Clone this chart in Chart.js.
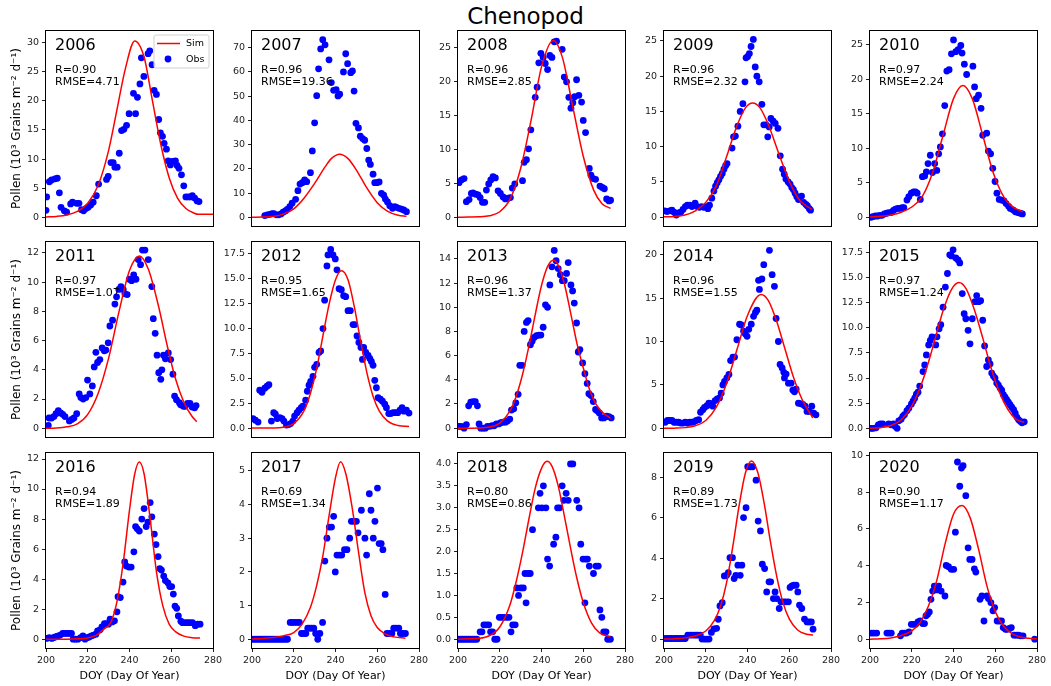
<!DOCTYPE html>
<html>
<head>
<meta charset="utf-8">
<script src="https://cdn.jsdelivr.net/npm/chart.js@4.4.1/dist/chart.umd.min.js"></script>
<style>
body{margin:0;background:#fff;width:1051px;height:686px;overflow:hidden;position:relative;font-family:"DejaVu Sans",sans-serif}
.panel{position:absolute}
#title{position:absolute;left:0;top:3px;width:1051px;text-align:center;font-size:23px;line-height:27px;color:#000}
</style>
</head>
<body>
<div id="title">Chenopod</div>
<script>
// panel labels and stats
var years = ['2006','2007','2008','2009','2010','2011','2012','2013','2014','2015','2016','2017','2018','2019','2020'];
var rValues = ['0.90','0.96','0.96','0.96','0.97','0.97','0.95','0.96','0.96','0.97','0.94','0.69','0.80','0.89','0.90'];
var rmseValues = ['4.71','19.36','2.85','2.32','2.24','1.07','1.65','1.37','1.55','1.24','1.89','1.34','0.86','1.73','1.17'];

// axes
var xTicks = [200, 220, 240, 260, 280];
var yMins = [-1.5, -3.6, -1.3, -1.25, -1.25, -0.6, -0.9, -0.73, -1.0, -0.86, -0.59, -0.26, -0.2, -0.44, -0.48];
var yMaxs = [32.0, 76.9, 27.5, 26.4, 27.0, 12.75, 18.7, 15.4, 21.46, 18.53, 12.4, 5.53, 4.25, 9.19, 10.13];
var yTickSteps = [5, 10, 5, 5, 5, 2, 2.5, 2, 5, 2.5, 2, 1, 0.5, 2, 2];
var yTickTops = [30, 70, 25, 25, 25, 12, 17.5, 14, 20, 17.5, 12, 5, 4, 8, 10];
var yTickDecimals = [0, 0, 0, 0, 0, 0, 1, 0, 0, 1, 0, 0, 1, 0, 0];

// observed [day, value]
var obs2006 = [[200,1.2],[200.3,3.5],[201.6,6.1],[202.7,6.4],[204.3,6.6],[205.4,6.7],[206.4,4.2],[207.2,1.7],[208.8,1.1],[209.9,0.9],[211.8,2.3],[212.7,2.6],[214.7,2.4],[215.8,2.4],[217,1.3],[218,1.1],[219.1,1.5],[220.2,1.7],[221.4,2.1],[222.6,2.6],[224.1,3.7],[225.2,5.7],[229,6.5],[229.8,7.0],[231.1,9.4],[232.2,9.4],[233,8.6],[234.1,8.6],[235.1,11.0],[236.2,14.9],[237.3,15.1],[238.6,15.8],[239.8,17.8],[241.9,21.3],[242.9,17.8],[243.8,20.6],[245,22.9],[245.7,27.4],[246.9,24.2],[248.9,28.1],[249.7,28.6],[250.8,26.2],[251.8,21.8],[252.9,21.1],[254,16.8],[254.8,14.5],[255.8,13.9],[256.6,12.7],[257.7,11.7],[258.5,9.7],[259.6,9.0],[260.5,9.6],[262,9.7],[262.8,8.9],[263.7,8.4],[264.9,7.3],[266,5.4],[267,3.5],[268.1,3.5],[269.2,3.5],[270.1,3.7],[271.2,3.3],[272.4,2.8],[273.3,2.7]];
var obs2007 = [[206.1,0.7],[207.3,1.0],[208.5,1.2],[209.6,1.5],[210.5,1.5],[211.7,1.0],[212.8,1.0],[213.9,1.4],[214.9,2.1],[216,2.6],[216.9,3.3],[218.1,4.4],[219.2,5.8],[220.9,7.4],[222,11.0],[223,13.7],[224.1,14.3],[225.2,15.4],[226.2,14.7],[228,18.4],[228.9,27.4],[230,39.0],[231,50.2],[231.9,61.3],[232.9,69.5],[233.9,73.3],[235,71.2],[236.9,65.0],[238,55.6],[239.1,52.4],[240.3,52.7],[241.2,50.1],[242,50.8],[243.8,60.0],[244.9,67.5],[245.8,63.4],[247.3,59.7],[248.1,60.4],[248.9,52.1],[249.8,38.8],[251,36.9],[251.9,33.5],[253,32.5],[254,31.8],[255,28.4],[255.9,23.6],[256.7,21.8],[258,17.8],[258.8,14.3],[259.9,14.3],[260.9,14.6],[262,9.9],[263.1,9.1],[263.9,7.5],[264.9,6.3],[266,4.8],[267.3,3.7],[268.4,4.4],[269.2,4.1],[270.4,3.7],[271.6,3.4],[272.7,3.0],[274,2.3]];
var obs2008 = [[200.5,5.1],[201.6,5.5],[202.9,5.7],[204,2.3],[205.3,2.6],[206.4,3.5],[207.2,3.6],[208.5,3.4],[209.6,3.3],[210.6,2.9],[211.7,2.2],[212.8,2.2],[213.6,4.0],[214.7,4.9],[215.7,5.5],[216.8,6.0],[217.9,5.8],[219.2,3.9],[220.3,3.5],[221.6,3.0],[222.7,2.7],[224,2.8],[225.1,2.9],[226,4.3],[227.2,4.9],[230.9,5.4],[231.7,8.1],[232.8,8.5],[233.8,10.1],[234.9,12.9],[237,17.7],[237.9,19.2],[238.7,22.8],[239.7,24.2],[240.8,23.6],[241.8,22.7],[242.9,21.8],[244,23.9],[245,23.6],[246.1,25.9],[247.2,26.0],[249.9,24.8],[250.9,20.7],[252,20.0],[253.1,17.7],[254.1,16.1],[255,16.9],[255.9,17.8],[256.8,20.3],[257.9,18.0],[259.2,17.0],[260,14.3],[261.1,12.5],[262.9,7.2],[263.7,6.2],[264.8,5.7],[265.9,5.6],[268,4.6],[269.1,4.4],[270.1,4.2],[271.2,2.7],[272.3,2.4],[273.1,2.5]];
var obs2009 = [[200.3,0.9],[201.4,0.8],[202.7,0.9],[203.8,1.0],[204.8,0.7],[205.9,0.3],[207,0.6],[208,0.7],[209.1,1.1],[210.2,1.5],[211.2,1.7],[212.3,1.7],[213.4,1.5],[214.9,2.0],[215.9,1.5],[217,1.4],[218,1.5],[219.1,1.4],[220.2,1.5],[221,1.2],[221.8,1.7],[222.9,2.7],[223.9,3.7],[224.7,4.4],[225.5,4.9],[226.3,5.3],[227.1,5.8],[227.9,6.2],[228.7,6.8],[229.5,7.3],[230.2,7.6],[232.6,9.8],[233.3,11.4],[234.2,11.5],[235.4,12.9],[236.5,15.0],[237.8,16.1],[238.8,19.2],[239.3,22.6],[240.1,22.8],[240.9,23.2],[241.7,24.2],[242.8,25.2],[243.7,21.3],[244.5,20.0],[245.6,19.2],[246.9,16.0],[247.8,13.1],[248.9,13.1],[249.7,11.4],[250.4,12.8],[251.2,14.0],[252.3,13.6],[253.3,13.3],[254.6,12.6],[255.7,8.7],[256.8,6.8],[257.6,6.1],[258.4,5.4],[259.5,5.0],[260.4,4.7],[261.2,4.2],[262,3.9],[262.8,3.4],[263.6,2.9],[264.4,2.5],[265.9,3.0],[266.9,2.1],[268,1.8],[268.7,1.6],[269.6,1.2],[270.2,1.0]];
var obs2010 = [[200.5,0],[201.3,0.1],[202.6,0.2],[203.7,0.2],[204.8,0.3],[205.8,0.3],[206.9,0.5],[208,0.6],[209,0.7],[210.1,0.7],[211.2,1.0],[212.2,1.2],[213.3,1.3],[214.5,1.3],[215.4,1.4],[216.2,1.4],[217.7,2.5],[218.6,3.0],[219.8,3.5],[220.9,3.7],[221.8,3.7],[222.6,3.5],[224.1,2.6],[225.1,5.9],[226.2,6.0],[227,6.6],[227.8,7.8],[228.9,9.0],[229.9,6.5],[231,7.8],[232,6.8],[232.9,9.2],[233.7,10.2],[234.7,12.1],[235.8,16.2],[236.8,21.2],[237.9,21.4],[239,23.7],[240,25.7],[241.1,24.0],[242.2,24.3],[243.5,24.9],[244.1,23.8],[245.2,22.2],[246.3,20.7],[249.3,21.9],[250.1,18.9],[250.9,17.2],[252,17.7],[253.2,15.8],[254,11.9],[255.9,12.2],[256.7,9.6],[257.8,9.2],[258.8,7.1],[259.9,5.2],[260.8,3.5],[261.9,2.6],[263,2.5],[264.2,2.4],[265.2,2.0],[266.4,1.6],[267.2,1.3],[268.5,1.1],[269.6,0.8],[270.8,0.7],[272,0.6],[273,0.5]];
var obs2011 = [[201.1,0.2],[201.4,0.7],[202.7,0.7],[203.8,0.8],[204.8,1.0],[205.9,1.2],[207,1.05],[208,0.95],[209.1,0.8],[211.2,0.5],[212.3,0.6],[213.4,0.7],[214.7,1.0],[215.9,2.35],[216.7,2.1],[217.8,2.0],[219.1,2.1],[219.9,3.3],[221,2.35],[222.2,2.9],[223.1,4.2],[223.9,5.2],[224.7,4.5],[225.8,4.7],[226.9,5.5],[227.9,5.3],[228.7,5.35],[229.8,5.85],[230.6,7.0],[231.9,7.4],[233,8.5],[233.8,9.0],[234.9,9.5],[235.9,9.7],[237,9.5],[237.8,9.2],[238.9,9.15],[239.9,10.2],[241,10.1],[242,10.5],[243.1,10.2],[244.2,11.55],[245.3,11.2],[246.2,12.2],[247.4,12.2],[249,11.55],[250.7,9.7],[251.4,7.5],[252.3,6.5],[253.2,5.0],[254,3.8],[255,3.35],[255.5,4.0],[256.3,5.0],[257.2,4.75],[258.6,5.15],[259.7,4.7],[260.8,3.7],[261.6,2.2],[262.5,1.95],[263.9,1.75],[264.5,1.6],[265.8,1.5],[266.7,1.5],[267.8,1.7],[269,1.7],[270,1.45],[271.2,1.4],[271.9,1.55]];
var obs2012 = [[200.5,0.95],[201.6,0.8],[202.9,0.6],[203.7,3.8],[204.8,3.6],[206.1,4.0],[207.2,4.2],[208.1,4.35],[209.3,0.7],[210.4,1.55],[211.2,1.4],[212.1,0.95],[213.3,1.05],[214.4,0.95],[215.3,0.7],[216.5,0.3],[217.6,0.35],[218.5,0.45],[219.6,0.7],[220.4,1.2],[221.6,1.55],[222.5,1.8],[223.6,2.05],[224.4,2.2],[225.7,2.8],[226.5,3.7],[227.3,4.3],[228.1,4.7],[229.2,5.2],[230,6.1],[231,6.4],[232.1,7.6],[232.9,7.75],[234,10.0],[234.8,12.85],[235.9,16.3],[236.4,17.4],[237.7,17.95],[238.8,17.4],[239.9,17.0],[240.7,15.9],[241.7,14.0],[242.8,13.9],[243.9,13.3],[244.9,13.2],[246,11.8],[247.1,11.8],[248.4,10.4],[249.2,10.4],[250.3,9.25],[251.2,8.6],[252.2,8.1],[252.9,6.9],[253.5,8.1],[254.5,7.6],[255.6,7.3],[256.4,7.0],[257.2,6.7],[258,6.3],[258.8,4.8],[259.6,4.05],[260.4,3.05],[261.5,2.9],[262.5,2.7],[263.6,2.4],[264.4,2.05],[265.5,1.45],[266.5,1.45],[267.6,1.55],[268.7,1.55],[269.8,1.55],[270.9,1.8],[271.9,2.05],[272.8,1.7],[274,1.8],[275.2,1.5]];
var obs2013 = [[200.5,0.15],[201.6,0.15],[202.9,0],[204,0.3],[205.1,1.85],[206.1,2.15],[207.2,2.2],[208.3,2.2],[209.3,1.85],[210.1,0.35],[210.9,0],[212,0],[213.1,0],[214.1,0.15],[215.2,0.15],[216.3,0.2],[217.3,0.2],[218.4,0.35],[219.5,0.35],[220.5,0.45],[221.6,0.5],[222.7,0.5],[223.7,0.6],[224.8,0.75],[225.6,1.5],[226.7,1.6],[227.7,2.1],[228.8,2.8],[229.6,5.2],[230.7,5.2],[231.7,8.0],[232.8,8.75],[233.6,8.9],[234.7,6.9],[235.5,7.2],[236.5,7.5],[237.6,7.65],[238.7,7.7],[239.7,7.7],[240.8,8.35],[241.9,10.2],[242.9,10.0],[244,11.85],[245,13.35],[246.1,14.7],[247,13.85],[248,13.2],[249,12.7],[250,12.2],[250.9,12.2],[252,12.8],[252.8,13.7],[254.1,11.85],[254.9,11.35],[255.7,10.35],[256.8,8.7],[257.6,6.3],[258.4,6.5],[259.7,5.4],[260.8,4.5],[261.9,3.7],[262.7,2.85],[263.7,2.7],[264.8,2.2],[265.9,1.55],[266.7,1.45],[267.7,1.25],[268.8,0.85],[269.9,0.85],[271.2,1.0],[272.3,0.95],[273.4,0.85]];
var obs2014 = [[200.6,0.7],[201.6,0.9],[202.7,0.9],[203.8,0.9],[204.8,0.7],[205.9,0.7],[207,0.7],[208,0.6],[209.1,0.6],[210.2,0.7],[211.2,0.6],[212.3,0.7],[213.4,0.7],[214.3,0.75],[215.5,0.9],[216.6,1.0],[217.5,1.85],[218.6,2.15],[219.4,2.4],[220.6,2.6],[221.5,2.9],[222.6,2.85],[223.4,2.55],[224.5,3.2],[225.5,3.4],[226.6,3.5],[227.4,4.05],[228.2,5.0],[229,5.4],[230.1,5.8],[231.1,6.2],[231.9,7.8],[233,8.2],[233.8,8.2],[234.9,10.2],[236.2,12.0],[237,11.9],[238.1,11.2],[238.9,10.9],[239.8,10.6],[240.6,11.4],[241.8,12.0],[242.9,12.9],[243.8,13.35],[244.5,13.6],[245.3,17.05],[245.7,16.0],[246.9,17.2],[247.8,18.85],[250.5,20.5],[251.8,17.7],[252.9,16.35],[253.7,12.65],[254.8,10.0],[255.6,7.35],[256.6,6.95],[257.4,6.45],[257.7,5.8],[258.5,6.25],[259.6,5.2],[260.9,5.2],[261.7,4.4],[262.5,4.2],[263.3,4.5],[264.4,2.9],[265.3,2.85],[266.5,2.75],[267.6,2.55],[268.5,1.95],[269.6,1.95],[270.8,2.55],[271.7,1.75],[272.8,1.55]];
var obs2015 = [[200.5,0],[201.6,0],[202.9,0.05],[204,0.35],[205,0.45],[206.1,0.45],[209,0.45],[210.1,0.35],[211.2,0.45],[212,0.2],[213,0],[213.8,0.75],[214.9,0.9],[215.7,1.2],[216.5,1.35],[217.7,1.75],[218.6,2.0],[219.8,2.4],[220.6,2.7],[221.4,3.0],[222.2,3.4],[223,3.6],[223.8,4.2],[225.4,5.65],[226.2,6.3],[227,7.3],[228.1,8.3],[228.9,8.75],[229.7,9.1],[231.5,8.3],[232.1,9.1],[233.1,9.9],[233.9,10.3],[235,12.05],[236.1,14.05],[237.1,15.4],[238.2,17.25],[239,17.15],[239.8,17.75],[241.1,16.95],[242.2,16.75],[243,16.45],[244.2,13.4],[245.1,11.4],[245.9,10.9],[247,9.75],[247.9,8.4],[249,10.9],[250.3,12.6],[251.1,13.2],[252.1,12.6],[253,12.7],[254,10.75],[254.9,8.2],[255.9,6.15],[256.7,6.8],[257.5,6.4],[258.3,5.5],[259.1,5.2],[259.9,5.0],[260.7,4.5],[261.5,4.3],[262.3,4.0],[263.1,3.8],[263.9,3.35],[264.7,3.1],[265.5,2.85],[266.3,2.6],[267.1,2.35],[267.9,2.1],[268.8,1.85],[269.6,1.5],[270.4,1.1],[271.2,0.85],[272,0.7],[272.8,0.55],[273.9,0.65]];
var obs2016 = [[200.3,0.05],[201.5,0.1],[202.8,0.05],[203.6,0.1],[204.4,0.15],[205.5,0.2],[206.8,0.27],[208,0.38],[208.9,0.38],[210.1,0.38],[211.2,0.38],[212.2,0.38],[213,0],[214.1,0],[215.3,0],[216.6,0.1],[217.7,0.22],[218.7,0],[219.8,0.1],[220.7,0.15],[221.8,0.22],[222.8,0.27],[223.9,0.33],[224.7,0.55],[225.9,0.62],[226.8,0.82],[228,1.04],[228.9,1.04],[229.9,1.0],[230.7,1.33],[231.7,1.15],[232.8,1.22],[234,1.82],[234.5,2.83],[235.6,2.77],[236.9,3.8],[237.7,5.14],[238.5,4.87],[239.7,4.8],[240.8,4.8],[242.1,5.82],[242.9,7.5],[243.7,7.35],[244.7,7.2],[245.9,8.0],[247,8.7],[248,7.5],[248.8,7.8],[249.9,9.1],[250.7,8.15],[251.9,7.0],[252.7,6.3],[253.7,5.5],[254.5,4.7],[255.3,4.6],[256.4,4.2],[257.2,3.9],[258.4,3.75],[259.3,3.5],[260.2,3.5],[261,3.0],[261.8,2.2],[262.6,2.05],[263.4,1.55],[264.6,1.2],[265.4,1.1],[266.7,1.1],[267.8,1.1],[268.9,1.1],[270.2,1.1],[271.5,0.9],[272.7,1.0],[273.8,1.0]];
var obs2017 = [[200,0],[201,0],[202,0],[203,0],[204,0],[205,0],[206,0],[207,0],[208,0],[209,0],[210,0],[211,0],[212,0],[213,0],[214,0],[215,0],[216,0],[217,0],[218.3,0.5],[219.3,0.5],[220.3,0.5],[221.6,0.5],[222.7,0.5],[223.7,0.17],[224.8,0.17],[225.8,0.17],[226.7,0.33],[227.7,0.33],[228.6,0.33],[229.6,0.33],[230.5,0.17],[231.5,0],[232.5,0.17],[233.8,0.5],[234.9,2.32],[235.9,3.0],[237,3.33],[238.1,3.33],[239.1,3.65],[239.9,2.0],[240.7,2.5],[241.9,2.5],[243,2.5],[244.3,2.66],[245.5,2.66],[246.8,3.0],[247.6,3.5],[248.9,3.5],[250,3.5],[250.8,3.16],[252.4,3.83],[254.1,3.0],[254.9,2.5],[256.2,4.32],[257,3.83],[258.1,3.0],[258.9,3.5],[260.1,4.49],[260.9,2.84],[261.9,2.84],[262.7,2.66],[263.8,1.33],[264.6,0.17],[265.7,0.17],[267,0.17],[267.9,0.33],[269,0.33],[270.3,0.33],[271.1,0.17],[272.2,0.17],[273.5,0.17]];
var obs2018 = [[200,0],[201,0],[202,0],[203,0],[204,0],[205,0],[206,0],[207,0],[208,0],[209,0],[210.6,0.17],[211.5,0.17],[212.4,0.33],[213.5,0.33],[214.7,0.33],[215.6,0.17],[216.6,0.17],[217.6,0],[218.7,0],[219.8,0.5],[220.8,0.5],[222,0.5],[223.3,0.5],[224.4,0.5],[225.4,0.17],[226.2,0.33],[227.4,0.33],[228.2,1.17],[229,1.0],[230.1,1.17],[231.3,1.17],[232.1,1.5],[232.6,0.83],[233.5,1.5],[234.6,1.5],[235.7,2.5],[238.5,3.0],[239.3,3.33],[240.2,3.0],[240.9,3.5],[242.1,3.0],[242.9,1.83],[243.9,1.67],[245.8,2.17],[246.9,2.33],[247.7,3.0],[248.7,3.0],[249.9,3.5],[250.7,3.17],[251.8,3.33],[252.8,3.17],[253.9,4.0],[255,4.0],[256.9,3.17],[258,3.0],[258.8,2.17],[259.9,1.83],[260.8,0.83],[261.2,1.83],[262,1.83],[262.9,1.67],[264.9,1.5],[266.1,1.67],[267.2,1.67],[268,0.67],[268.9,0.5],[269.8,0.17],[270.9,0.17],[271.7,0],[273,0]];
var obs2019 = [[200.5,0.03],[201.6,0.03],[202.8,0.03],[203.7,0.03],[204.9,0.03],[206,0.03],[207,0.03],[208.1,0.03],[209.2,0.03],[210.2,0.03],[211.4,0.2],[212.5,0.2],[213.5,0.2],[214.6,0.2],[215.4,0.2],[216.2,0.2],[217.4,0.2],[218.2,0],[219.5,0],[220.6,0],[221.6,0],[222.7,0.33],[223.9,0.5],[225.2,0.53],[226,0.98],[226.8,1.64],[227.9,1.8],[228.9,3.12],[230,3.15],[230.8,3.28],[231.6,4.02],[232.8,4.02],[233.6,2.99],[234.4,3.15],[235.4,3.65],[236.5,3.15],[237.3,3.65],[238.1,6.0],[239.3,6.49],[240.1,8.51],[241.4,8.51],[242.5,8.51],[244.1,7.85],[245.1,5.83],[246.2,5.34],[247.1,3.7],[248.2,3.48],[249.2,2.33],[250.3,2.83],[251.1,2.83],[252.4,2.0],[253.2,2.33],[254,2.0],[255.2,1.51],[256,1.84],[257.3,1.84],[258.4,1.84],[259.6,1.84],[260.4,2.55],[261.3,2.63],[262.2,2.66],[263.3,2.66],[264.1,2.33],[264.9,1.68],[266,1.51],[267.3,0.99],[268.5,0.85],[269.5,0.85],[270.6,0.85],[271.4,0.49]];
var obs2020 = [[200.8,0.33],[201.9,0.33],[203.2,0.33],[208.1,0.33],[209.2,0.33],[210.2,0.33],[214.6,0.18],[215.4,0.33],[216.6,0.33],[217.5,0.33],[218.7,0.4],[219.8,0.81],[220.8,0.81],[221.9,0.81],[223,0.94],[224,0.99],[225.2,0.85],[226.1,0.85],[226.8,1.27],[227.6,1.36],[228.4,1.48],[229.2,2.17],[230,2.62],[230.8,2.89],[232,2.68],[232.9,2.89],[234.1,2.62],[235.9,2.35],[236.5,4.01],[237.6,3.94],[238.9,3.8],[240.1,3.8],[240.9,5.82],[241.9,9.64],[243,8.32],[243.8,9.31],[244.6,9.44],[245.9,7.81],[247,4.97],[247.8,4.34],[248.9,4.34],[250,3.83],[250.7,3.65],[252.7,2.17],[253.6,2.35],[254.6,0.99],[256,2.35],[256.7,2.21],[257.9,1.99],[258.9,1.54],[259.7,1.72],[260.9,0.99],[262,0.99],[263,0.99],[263.8,0.63],[264.9,0.54],[265.7,0.54],[266.9,0.58],[267.7,0.63],[269,0.22],[270.1,0.22],[271.1,0.22],[272.2,0.18],[273.3,0.18],[278.9,0]];

// simulated curve [day, value]
var sim2006 = [[200,0.05],[205,0.15],[210,0.4],[215,1.0],[220,2.4],[225,5.5],[230,11.5],[234,18.5],[238,25.5],[242.5,30.3],[247,27.5],[251,20.0],[255,12.5],[259,6.8],[263,3.3],[267,1.5],[271,0.7],[273,0.5],[280,0.5]];
var sim2007 = [[200,0.0],[205,0.1],[210,0.35],[215,1.3],[220,3.5],[225,8.0],[230,14.0],[235,20.8],[238,24.2],[242,26.0],[246,24.2],[250,19.5],[255,12.1],[260,6.0],[265,2.4],[270,0.8],[274,0.4]];
var sim2008 = [[200,0],[205,0.02],[210,0.05],[215,0.2],[220,0.8],[225,2.7],[230,7.2],[235,14.3],[240,22.2],[245.6,26.1],[250,23.6],[255,16.3],[260,9.0],[265,4.0],[269,2.0],[273.1,1.3]];
var sim2009 = [[200,0.05],[205,0.1],[210,0.3],[215,0.9],[220,2.1],[225,4.4],[230,8.6],[235,13.0],[239,15.5],[242.5,16.2],[246,15.5],[250,13.1],[255,9.0],[260,5.1],[265,2.4],[270.9,1.1]];
var sim2010 = [[200,0.05],[205,0.15],[210,0.35],[215,0.75],[220,1.5],[225,3.0],[230,6.5],[235,11.9],[240,17.2],[244.5,19.1],[249,17.2],[254,11.9],[259,6.5],[264,3.0],[268,1.6],[273.2,0.8]];
var sim2011 = [[200,0],[205,0.02],[210,0.1],[215,0.3],[220,0.95],[225,2.4],[230,4.8],[235,8.0],[240,10.8],[244.7,11.8],[249,10.9],[254,8.3],[258,5.7],[262,3.4],[266,1.8],[270,0.8],[272.2,0.45]];
var sim2012 = [[200,0],[210,0.01],[215,0.08],[220,0.44],[225,1.77],[228,3.5],[231,6.0],[234,9.3],[237,12.5],[240,14.9],[242.8,15.8],[246,14.9],[249,12.2],[252,8.8],[255,5.6],[258,3.2],[261,1.7],[265,0.7],[270,0.25],[275.2,0.15]];
var sim2013 = [[200,0],[210,0.02],[215,0.09],[220,0.42],[225,1.45],[228,2.7],[231,4.5],[234,6.8],[237,9.4],[240,11.8],[243,13.4],[245.6,13.9],[248,13.5],[251,11.9],[254,9.5],[257,7.0],[260,5.0],[263,3.2],[266,2.0],[270,1.2],[273.1,0.8]];
var sim2014 = [[200,0],[205,0.02],[210,0.08],[215,0.3],[220,0.9],[225,2.4],[230,5.2],[235,9.1],[240,13.0],[246.5,15.4],[250,14.7],[254,12.3],[258,9.1],[262,5.9],[266,3.4],[269,2.1],[271.3,1.2]];
var sim2015 = [[200,0.02],[205,0.07],[210,0.28],[215,0.86],[220,2.2],[225,4.6],[230,8.0],[235,11.7],[239,13.8],[242.6,14.5],[246,13.9],[250,11.8],[254,9.0],[258,6.0],[262,3.6],[266,1.9],[270,0.9],[273.9,0.6]];
var sim2016 = [[200,0],[210,0],[215,0.02],[220,0.08],[224,0.25],[228,0.7],[231,1.1],[234,2.5],[237,5.1],[240,8.6],[242.5,11.0],[244.7,11.8],[247,11.0],[250,7.9],[253,4.4],[256,2.2],[259,1.0],[262,0.5],[266,0.2],[270,0.1],[273.8,0.07]];
var sim2017 = [[200,0.01],[205,0.02],[210,0.05],[215,0.1],[220,0.2],[224,0.45],[228,0.95],[231,1.6],[234,2.5],[237,3.7],[240,4.8],[242.4,5.27],[245,4.9],[248,3.9],[251,2.6],[254,1.4],[257,0.7],[260,0.35],[264,0.15],[268,0.07],[273.5,0.03]];
var sim2018 = [[200,0],[205,0.01],[210,0.02],[215,0.08],[220,0.28],[225,0.8],[228,1.34],[231,2.0],[234,2.75],[237,3.45],[240,3.9],[242.6,4.06],[245,3.95],[248,3.5],[251,2.8],[254,2.06],[257,1.38],[260,0.84],[264,0.37],[268,0.14],[273,0.06]];
var sim2019 = [[200,0],[205,0.02],[210,0.06],[215,0.15],[220,0.4],[224,0.9],[227,1.6],[230,2.8],[233,4.6],[236,6.6],[239,8.2],[241.9,8.79],[245,8.2],[248,6.7],[251,4.8],[254,3.1],[257,1.8],[260,1.0],[264,0.45],[268,0.25],[271.4,0.2]];
var sim2020 = [[200,0],[205,0.02],[210,0.07],[215,0.2],[220,0.45],[224,0.9],[228,1.8],[232,3.2],[236,5.2],[240,6.8],[244.1,7.27],[248,6.6],[252,4.9],[256,2.9],[260,1.5],[264,0.7],[268,0.3],[272,0.12],[276,0.05],[280,0.02]];

var obsAll = [obs2006,obs2007,obs2008,obs2009,obs2010,obs2011,obs2012,obs2013,obs2014,obs2015,obs2016,obs2017,obs2018,obs2019,obs2020];
var simAll = [sim2006,sim2007,sim2008,sim2009,sim2010,sim2011,sim2012,sim2013,sim2014,sim2015,sim2016,sim2017,sim2018,sim2019,sim2020];

var yLabel = 'Pollen (10\u00b3 Grains m\u207b\u00b2 d\u207b\u00b9)';
var xLabel = 'DOY (Day Of Year)';

// panel boxes
var colLefts = [46, 252, 458, 664, 870];
var rowTops = [31, 242, 453];
var boxW = 167, boxH = 195;

Chart.defaults.font.family = '"DejaVu Sans", sans-serif';
Chart.defaults.color = '#000';

function toPts(arr) {
  return arr.map(function (p) { return {x: p[0], y: p[1]}; });
}

function tickList(top, step) {
  var out = [];
  for (var v = 0; v <= top + 1e-9; v += step) out.push(+v.toFixed(2));
  return out;
}

var panelPlugin = {
  id: 'panel',
  afterDatasetsDraw: function (chart, args, opts) {
    var a = chart.chartArea, ctx = chart.ctx;
    ctx.save();
    ctx.strokeStyle = '#000';
    ctx.lineWidth = 1;
    ctx.strokeRect(a.left - 0.5, a.top - 0.5, a.right - a.left + 1, a.bottom - a.top + 1);
    if (opts.legend) {
      var lx = a.right - 59, ly = a.top + 4, lw = 55, lh = 33;
      ctx.globalAlpha = 0.8;
      ctx.fillStyle = '#fff';
      ctx.beginPath();
      ctx.roundRect(lx, ly, lw, lh, 2);
      ctx.fill();
      ctx.globalAlpha = 1;
      ctx.strokeStyle = '#d0d0d0';
      ctx.stroke();
      ctx.strokeStyle = '#ff0000';
      ctx.lineWidth = 1.5;
      ctx.beginPath();
      ctx.moveTo(a.right - 56, a.top + 12.5);
      ctx.lineTo(a.right - 33, a.top + 12.5);
      ctx.stroke();
      ctx.fillStyle = '#0000ff';
      ctx.beginPath();
      ctx.arc(a.right - 45, a.top + 28, 3.4, 0, Math.PI * 2);
      ctx.fill();
      ctx.fillStyle = '#000';
      ctx.font = '9.5px "DejaVu Sans"';
      ctx.textBaseline = 'middle';
      ctx.fillText('Sim', a.right - 27, a.top + 13);
      ctx.fillText('Obs', a.right - 27, a.top + 28.5);
    }
    ctx.restore();
  },
  afterDraw: function (chart, args, opts) {
    var a = chart.chartArea, ctx = chart.ctx, i = opts.index;
    ctx.save();
    ctx.fillStyle = '#000';
    ctx.textBaseline = 'alphabetic';
    ctx.font = '16px "DejaVu Sans"';
    ctx.fillText(years[i], a.left + 9, a.top + 18.5);
    ctx.font = '11px "DejaVu Sans"';
    ctx.fillText('R=' + rValues[i], a.left + 9, a.top + 41.5);
    ctx.fillText('RMSE=' + rmseValues[i], a.left + 9, a.top + 53.5);
    ctx.restore();
  }
};

years.forEach(function (yr, i) {
  var r = Math.floor(i / 5), c = i % 5;
  var padL = c === 0 ? colLefts[0] : 40;
  var padT = 10, padR = 14;
  var padB = r === 2 ? 38 : 10;
  var bottomRow = r === 2;

  var div = document.createElement('div');
  div.className = 'panel';
  div.style.left = (colLefts[c] - padL) + 'px';
  div.style.top = (rowTops[r] - padT) + 'px';
  div.style.width = (padL + boxW + padR) + 'px';
  div.style.height = (padT + boxH + padB) + 'px';
  var cv = document.createElement('canvas');
  div.appendChild(cv);
  document.body.appendChild(div);

  var yt = tickList(yTickTops[i], yTickSteps[i]);
  var dec = yTickDecimals[i];

  new Chart(cv.getContext('2d'), {
    type: 'scatter',
    data: {
      datasets: [{
        type: 'line',
        label: 'Sim',
        data: toPts(simAll[i]),
        borderColor: '#ff0000',
        borderWidth: 1.5,
        pointRadius: 0,
        fill: false,
        cubicInterpolationMode: 'monotone',
        clip: 0,
        order: 0
      }, {
        label: 'Obs',
        data: toPts(obsAll[i]),
        backgroundColor: '#0000ff',
        borderWidth: 0,
        pointRadius: 3.4,
        clip: 0,
        order: 1
      }]
    },
    options: {
      responsive: true,
      maintainAspectRatio: false,
      devicePixelRatio: 1,
      animation: false,
      events: [],
      layout: {padding: {left: 0, top: padT, right: padR, bottom: 0}},
      plugins: {
        legend: {display: false},
        tooltip: {enabled: false},
        panel: {index: i, legend: i === 0}
      },
      scales: {
        x: {
          type: 'linear',
          min: 200,
          max: 280,
          afterFit: function (s) { s.height = padB; },
          afterBuildTicks: function (s) { s.ticks = xTicks.map(function (v) { return {value: v}; }); },
          ticks: {display: bottomRow, font: {size: 9.5}, color: '#222', padding: 3, maxRotation: 0},
          grid: {drawOnChartArea: false, drawTicks: bottomRow, tickLength: 4, color: '#222'},
          border: {display: false},
          title: {display: bottomRow, text: xLabel, font: {size: 11}, color: '#000', padding: {top: 0, bottom: 3}}
        },
        y: {
          type: 'linear',
          min: yMins[i],
          max: yMaxs[i],
          afterFit: function (s) { s.width = padL; },
          afterBuildTicks: function (s) { s.ticks = yt.map(function (v) { return {value: v}; }); },
          ticks: {
            font: {size: 9.5},
            color: '#222',
            padding: 3,
            callback: function (v) { return Number(v).toFixed(dec); }
          },
          grid: {drawOnChartArea: false, drawTicks: true, tickLength: 4, color: '#222'},
          border: {display: false},
          title: {display: c === 0, text: yLabel, font: {size: 12}, color: '#000', padding: {top: 10, bottom: 0}}
        }
      }
    },
    plugins: [panelPlugin]
  });
});
</script>
</body>
</html>
